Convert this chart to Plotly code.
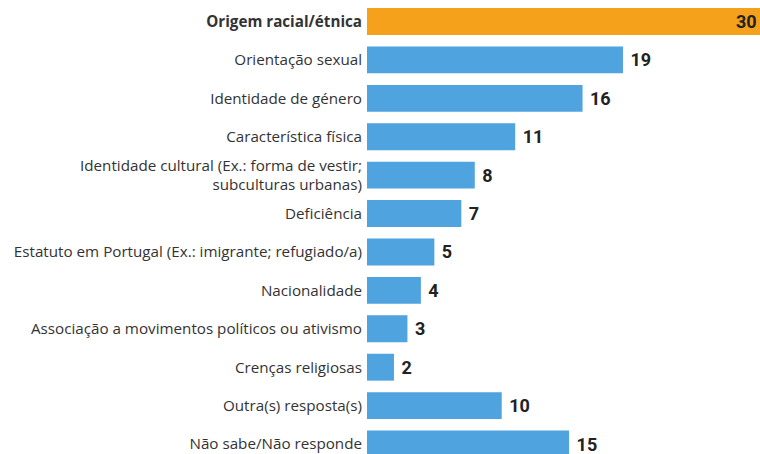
import plotly.graph_objects as go

# Survey categories (top to bottom) and percentages
categories = [
    "Origem racial/étnica",
    "Orientação sexual",
    "Identidade de género",
    "Característica física",
    "Identidade cultural (Ex.: forma de vestir;<br>subculturas urbanas)",
    "Deficiência",
    "Estatuto em Portugal (Ex.: imigrante; refugiado/a)",
    "Nacionalidade",
    "Associação a movimentos políticos ou ativismo",
    "Crenças religiosas",
    "Outra(s) resposta(s)",
    "Não sabe/Não responde",
]
values = [30, 19, 16, 11, 8, 7, 5, 4, 3, 2, 10, 15]

ORANGE = "#F5A11C"
BLUE = "#4FA3DE"
VALUE_FONT = dict(family="Roboto", size=18, color="#222222", weight="bold")

colors = [ORANGE] + [BLUE] * (len(values) - 1)
# the highlighted bar runs past the right edge, so its value sits inside it
labels = [""] + [f" {v}" for v in values[1:]]
ticktext = [f"<b>{categories[0]}</b>"] + categories[1:]

fig = go.Figure(
    go.Bar(
        x=values,
        y=list(range(len(values))),
        orientation="h",
        marker=dict(color=colors, line=dict(width=0)),
        text=labels,
        textposition="outside",
        constraintext="none",
        cliponaxis=False,
        textfont=VALUE_FONT,
        width=0.7,
        hoverinfo="skip",
    )
)

fig.add_annotation(
    xref="paper", x=1, xanchor="right", xshift=-1,
    yref="y", y=0, yanchor="middle",
    text=str(values[0]), showarrow=False, font=VALUE_FONT,
)

fig.update_layout(
    width=760,
    height=454,
    margin=dict(l=367, r=0, t=0, b=0),
    paper_bgcolor="white",
    plot_bgcolor="white",
    showlegend=False,
    xaxis=dict(range=[0, 29.17], visible=False, fixedrange=True),
    yaxis=dict(
        range=[11.26, -0.56],
        tickmode="array",
        tickvals=list(range(len(values))),
        ticktext=ticktext,
        showgrid=False,
        zeroline=False,
        showline=False,
        ticks="",
        ticklabelstandoff=4,
        tickfont=dict(family="Open Sans", size=15.2, color="#333333"),
        fixedrange=True,
    ),
)

fig.write_html("out.html")
